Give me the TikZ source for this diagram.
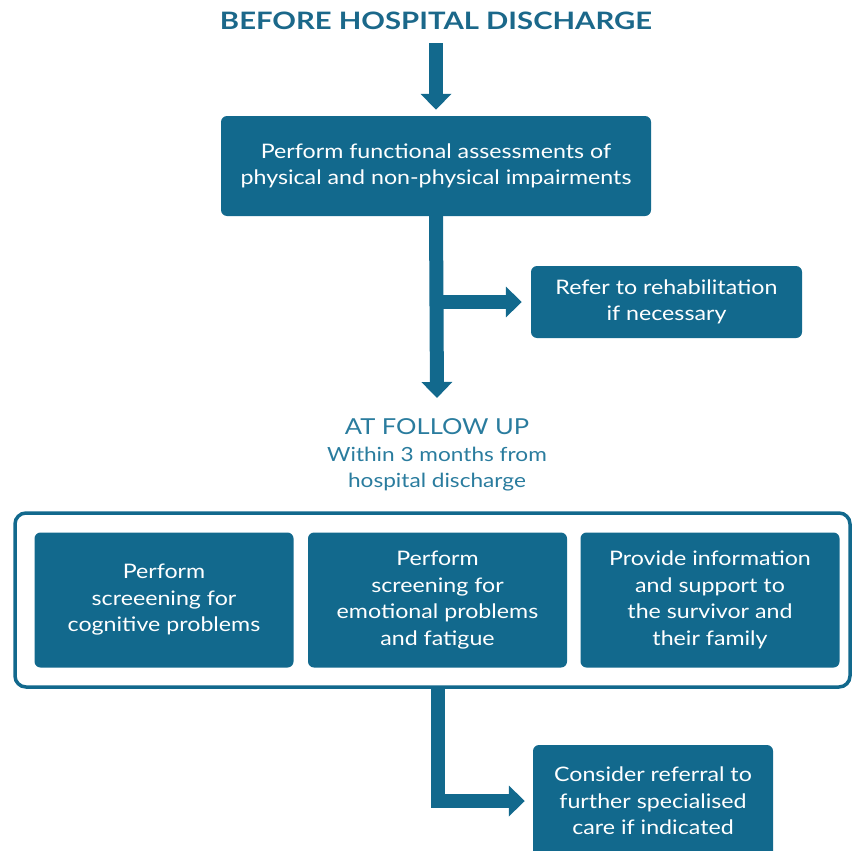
\documentclass[tikz,border=0pt]{standalone}
\usepackage{fontspec}
\setmainfont{Lato}[FakeStretch=1.16]
\newfontfamily\headfont{Lato}[FakeStretch=1.22]
\usetikzlibrary{arrows.meta}
\definecolor{careblue}{RGB}{18,105,141}
\definecolor{headblue}{RGB}{27,104,138}
\definecolor{stageblue}{RGB}{42,124,158}
\tikzset{
	stepbox/.style={fill=careblue, text=white, rounded corners=6pt, inner sep=0pt, align=center, font=\fontsize{20}{26.5}\selectfont},
	flow/.style={line width=14pt, draw=careblue, -{Triangle[width=30pt,length=16pt]}},
	stagebox/.style={draw=careblue, line width=3.5pt, rounded corners=11pt, inner sep=0pt, minimum width=835pt, minimum height=174pt},
}

\begin{document}
\begin{tikzpicture}[x=1pt, y=-1pt]
		%%%%% START %%%%%
		\useasboundingbox (0, 0) rectangle (851, 851);
		
		\node[text=headblue, font=\headfont\fontsize{24}{28}\selectfont\bfseries] (before) at (436, 21) {BEFORE HOSPITAL DISCHARGE};
		\node[stepbox, minimum width=430pt, minimum height=100pt] (assess) at (436, 166) {Perform functional assessments of\\physical and non-physical impairments};
		\node[stepbox, minimum width=271pt, minimum height=72pt] (rehab) at (666.5, 302) {Refer to rehabilitation\\if necessary};
		
		\node[text=stageblue, align=center, font=\fontsize{19.5}{26.5}\selectfont] (followup) at (437, 455) {{\fontsize{22}{26.5}\selectfont AT FOLLOW UP}\\Within 3 months from\\hospital discharge};
		\coordinate (fuTip) at (437, 398);
		
		\node[stagebox] (frame) at (432.5, 600) {};
		\node[stepbox, minimum width=259pt, minimum height=135pt] (cognitive) at (164, 600) {Perform\\screeening for\\cognitive problems};
		\node[stepbox, minimum width=259pt, minimum height=135pt] (emotional) at (437.5, 600) {Perform\\screening for\\emotional problems\\and fatigue};
		\node[stepbox, minimum width=259pt, minimum height=135pt] (support) at (710, 600) {Provide information\\and support to\\the survivor and\\their family};
		
		\node[stepbox, minimum width=240pt, minimum height=112pt] (referral) at (653, 801) {Consider referral to\\further specialised\\care if indicated};
		
		% arrows
		\draw[flow, shorten <=10pt, shorten >=6pt] (before.south) -- (assess.north);
		\draw[flow] (assess.south) -- (fuTip);
		\draw[flow, shorten >=9pt] (assess.south |- rehab.west) -- (rehab.west);
		\draw[flow, shorten >=8pt] (frame.south -| emotional.south) |- (referral.west);
		%%%%% END %%%%%
	\end{tikzpicture}
\end{document}
